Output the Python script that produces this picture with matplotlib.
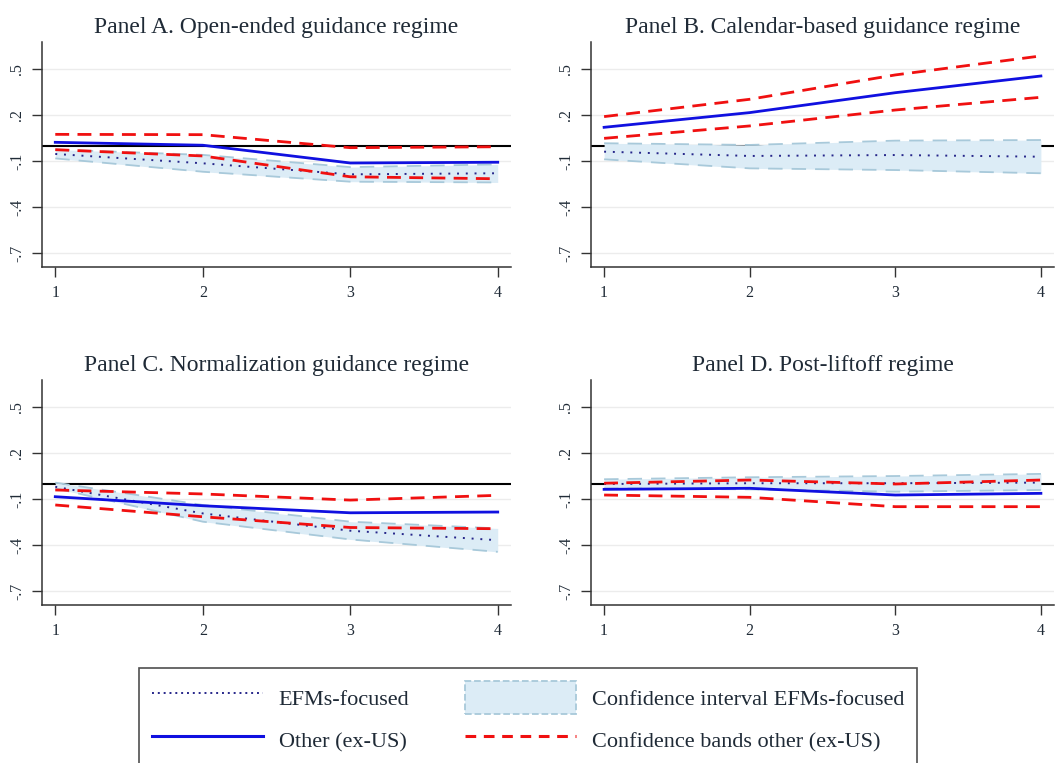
import numpy as np
import matplotlib
matplotlib.use("Agg")
import matplotlib.pyplot as plt
from matplotlib.lines import Line2D
from matplotlib.patches import Patch

plt.rcParams['font.family'] = ['Liberation Serif', 'DejaVu Serif']

# Horizon (quarters)
horizon = [1, 2, 3, 4]

titles = ["Panel A. Open-ended guidance regime",
          "Panel B. Calendar-based guidance regime",
          "Panel C. Normalization guidance regime",
          "Panel D. Post-liftoff regime"]

# EFMs-focused point estimates and confidence interval
efm = [[-0.054, -0.115, -0.187, -0.180],
       [-0.039, -0.067, -0.061, -0.072],
       [-0.020, -0.194, -0.307, -0.369],
       [-0.002, 0.003, 0.003, 0.007]]
efm_hi = [[-0.025, -0.060, -0.140, -0.122],
          [0.016, 0.005, 0.033, 0.037],
          [0.007, -0.139, -0.248, -0.292],
          [0.029, 0.042, 0.050, 0.064]]
efm_lo = [[-0.083, -0.170, -0.235, -0.240],
          [-0.089, -0.148, -0.159, -0.180],
          [-0.030, -0.248, -0.364, -0.445],
          [-0.030, -0.037, -0.052, -0.041]]

# Other (ex-US) point estimates and confidence bands
other = [[0.022, 0.003, -0.113, -0.108],
         [0.120, 0.216, 0.346, 0.455],
         [-0.085, -0.144, -0.190, -0.185],
         [-0.037, -0.030, -0.074, -0.063]]
other_hi = [[0.074, 0.072, -0.013, -0.007],
            [0.190, 0.303, 0.462, 0.586],
            [-0.041, -0.067, -0.107, -0.076],
            [0.003, 0.024, -0.002, 0.024]]
other_lo = [[-0.026, -0.067, -0.203, -0.216],
            [0.048, 0.129, 0.233, 0.316],
            [-0.139, -0.216, -0.286, -0.294],
            [-0.074, -0.089, -0.150, -0.150]]

yticks = [0.5, 0.2, -0.1, -0.4, -0.7]
ytick_labels = [".5", ".2", "-.1", "-.4", "-.7"]

W, H = 1056, 763
fig = plt.figure(figsize=(W / 100, H / 100), dpi=100)

# axes boxes in pixels: left, top, width, height
boxes = [(42, 42, 469, 225), (591, 42, 463, 225),
         (42, 380, 469, 225), (591, 380, 463, 225)]

ci_fill = '#dcecf6'
ci_edge = '#a8c9da'
blue = '#1010e0'
red = '#f01010'
navy = '#26268a'
txt = '#1f2a36'

for i, (l, t, w, h) in enumerate(boxes):
    ax = fig.add_axes([l / W, 1 - (t + h) / H, w / W, h / H])
    ax.axhline(0, color='black', lw=1.5, zorder=1)
    ax.fill_between(horizon, efm_lo[i], efm_hi[i], color=ci_fill, lw=0, zorder=2)
    ax.plot(horizon, efm_hi[i], color=ci_edge, lw=1.3, ls=(0, (8, 5)), zorder=3)
    ax.plot(horizon, efm_lo[i], color=ci_edge, lw=1.3, ls=(0, (8, 5)), zorder=3)
    ax.plot(horizon, efm[i], color=navy, lw=1.4, ls=(0, (1, 3.5)), zorder=4)
    ax.plot(horizon, other[i], color=blue, lw=2.0, zorder=5)
    ax.plot(horizon, other_hi[i], color=red, lw=2.0, ls=(0, (5, 3)), zorder=6)
    ax.plot(horizon, other_lo[i], color=red, lw=2.0, ls=(0, (5, 3)), zorder=6)

    ax.set_xlim(0.91, 4.09)
    ax.set_ylim(-0.792, 0.677)
    ax.set_xticks(horizon)
    ax.set_yticks(yticks)
    ax.set_yticklabels(ytick_labels, rotation=90, va='center')
    ax.grid(axis='y', color='#ececec', lw=1.0)
    ax.set_axisbelow(True)
    for s in ['top', 'right']:
        ax.spines[s].set_visible(False)
    for s in ['left', 'bottom']:
        ax.spines[s].set_color('#333333')
        ax.spines[s].set_linewidth(1.1)
    ax.tick_params(length=7, width=1.0, color='#333333', labelsize=11.5,
                   labelcolor=txt)
    ax.tick_params(axis='x', pad=6)
    ax.tick_params(axis='y', pad=5)
    ax.set_title(titles[i], fontsize=17, color=txt, pad=6.5)

handles = [Line2D([], [], color=navy, lw=1.4, ls=(0, (1, 2))),
           Line2D([], [], color=blue, lw=2.2),
           Patch(facecolor=ci_fill, edgecolor=ci_edge, lw=1.3, ls='--'),
           Line2D([], [], color=red, lw=2.2, ls=(0, (3.5, 2.5)))]
labels = ["EFMs-focused", "Other (ex-US)",
          "Confidence interval EFMs-focused", "Confidence bands other (ex-US)"]
leg = fig.legend(handles, labels, ncol=2, loc='upper center',
                 bbox_to_anchor=(0.5, 1 - 668 / H), borderaxespad=0,
                 fontsize=16, frameon=True, fancybox=False,
                 handlelength=5.0, handleheight=1.9, handletextpad=0.7,
                 labelspacing=0.45, columnspacing=2.5, borderpad=0.6)
leg.get_frame().set_edgecolor('#222222')
leg.get_frame().set_linewidth(1.2)
for t in leg.get_texts():
    t.set_color(txt)

fig.savefig("out.png", dpi=100)
